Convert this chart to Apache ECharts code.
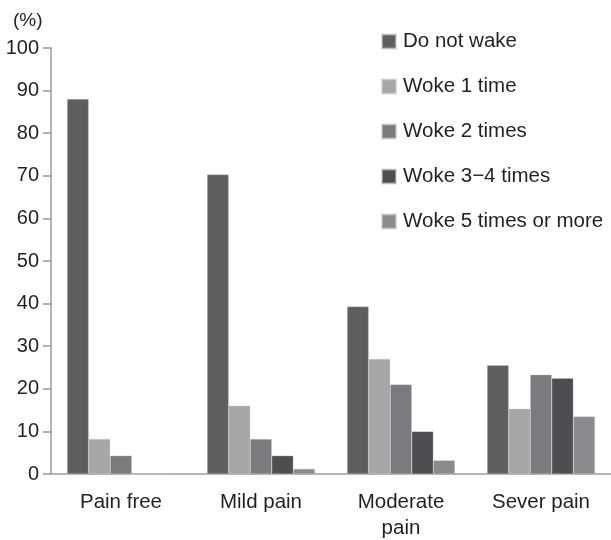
<!DOCTYPE html>
<html>
<head>
<meta charset="utf-8">
<script src="https://cdn.jsdelivr.net/npm/echarts@6/dist/echarts.min.js"></script>
<style>html,body{margin:0;padding:0;background:#fff}#c{width:611px;height:540px}</style>
</head>
<body>
<div id="c"></div>
<script>
var categories = ['Pain free', 'Mild pain', 'Moderate\npain', 'Sever pain'];
var seriesNames = ['Do not wake', 'Woke 1 time', 'Woke 2 times', 'Woke 3\u22124 times', 'Woke 5 times or more'];
var doNotWake = [88, 70.3, 39.3, 25.5];
var woke1 = [8.2, 16, 27, 15.3];
var woke2 = [4.3, 8.2, 21, 23.3];
var woke34 = [0, 4.3, 10, 22.5];
var woke5 = [0, 1.2, 3.2, 13.5];
var yTicks = [0, 10, 20, 30, 40, 50, 60, 70, 80, 90, 100];
var colors = ['#5f5f62', '#a6a7a9', '#7a7b7e', '#4d4e51', '#8a8b8e'];

var values = [doNotWake, woke1, woke2, woke34, woke5];
var font = 'Liberation Sans, Arial, sans-serif';
var chart = echarts.init(document.getElementById('c'));
chart.setOption({
  animation: false,
  textStyle: { fontFamily: font },
  title: {
    text: '(%)', left: 13, top: 11, padding: 0,
    textStyle: { fontSize: 19, fontWeight: 'normal', color: '#231f20', fontFamily: font }
  },
  legend: {
    orient: 'vertical', left: 381, top: 31, padding: 0,
    itemWidth: 14, itemHeight: 14, itemGap: 24,
    icon: 'rect',
    textStyle: { fontSize: 20.5, color: '#231f20', fontFamily: font, padding: [0, 0, 0, 2] },
    data: seriesNames
  },
  grid: { left: 51, right: 0, top: 48, bottom: 66, outerBoundsMode: 'none', containLabel: false },
  xAxis: {
    type: 'category', data: categories,
    axisLine: { lineStyle: { color: '#9a9a9a', width: 1.5 } },
    axisTick: { length: 8, lineStyle: { color: '#9a9a9a', width: 1.5 } },
    axisLabel: { fontSize: 20.5, color: '#231f20', margin: 15, lineHeight: 26, fontFamily: font }
  },
  yAxis: {
    type: 'value', min: yTicks[0], max: yTicks[yTicks.length - 1], interval: 10,
    splitLine: { show: false },
    axisLine: { show: true, lineStyle: { color: '#9a9a9a', width: 1.5 } },
    axisTick: { show: true, length: 8, lineStyle: { color: '#9a9a9a', width: 1.5 } },
    axisLabel: { fontSize: 20, color: '#231f20', margin: 12, fontFamily: font }
  },
  series: seriesNames.map(function (n, i) {
    return {
      name: n, type: 'bar', data: values[i],
      barGap: '0%', barCategoryGap: '23%',
      itemStyle: { color: colors[i], borderColor: 'rgba(200,200,200,0.6)', borderWidth: 0.5 }
    };
  })
});
</script>
</body>
</html>
